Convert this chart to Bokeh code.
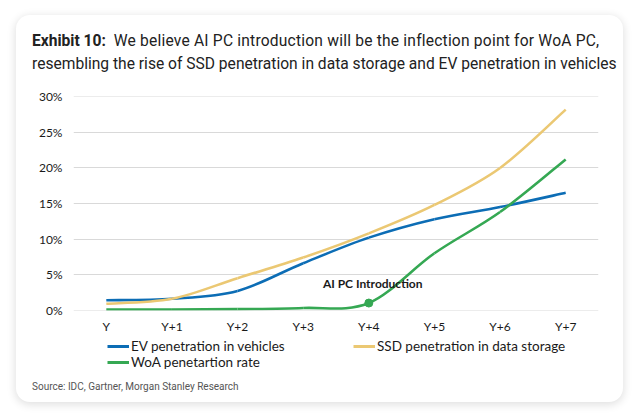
import numpy as np
from bokeh.plotting import figure
from bokeh.layouts import column, row
from bokeh.models import (Range1d, FixedTicker, PrintfTickFormatter, Label,
                          Legend, LegendItem, Div, Spacer)
from bokeh.embed import file_html
from bokeh.resources import INLINE

# ---- data -------------------------------------------------------------
categories = ["Y", "Y+1", "Y+2", "Y+3", "Y+4", "Y+5", "Y+6", "Y+7"]
ev_vehicles = [1.4, 1.6, 2.7, 6.6, 10.2, 12.8, 14.5, 16.5]
ssd_storage = [0.9, 1.6, 4.5, 7.4, 10.8, 14.8, 20.0, 28.2]
woa_rate = [0.1, 0.1, 0.15, 0.3, 1.0, 8.0, 13.8, 21.2]
y_ticks = [0, 5, 10, 15, 20, 25, 30]
marker_index = 4
annotation_text = "AI PC Introduction"
series_names = ["EV penetration in vehicles", "SSD penetration in data storage",
                "WoA penetartion rate"]
title_bold = "Exhibit 10:"
title_rest = "We believe AI PC introduction will be the inflection point for WoA PC,"
title_line2 = "resembling the rise of SSD penetration in data storage and EV penetration in vehicles"
source_text = "Source: IDC, Gartner, Morgan Stanley Research"

C_EV = "#0C6DB5"
C_SSD = "#EBC873"
C_WOA = "#35A853"
CHART_FONT = "Lato"
TITLE_FONT = "Roboto"
CARD_W = 607

xs = np.arange(len(categories), dtype=float)

p = figure(width=CARD_W, height=263, output_backend="svg", toolbar_location=None,
           x_range=Range1d(-0.5, len(categories) - 0.5),
           y_range=Range1d(-0.05, 30.05),
           min_border_left=57, min_border_right=25,
           min_border_top=21, min_border_bottom=28)
p.background_fill_color = "white"
p.border_fill_color = "white"
p.outline_line_color = None

# axes
p.xaxis.ticker = FixedTicker(ticks=list(xs))
p.xaxis.major_label_overrides = {float(i): c for i, c in enumerate(categories)}
p.yaxis.ticker = FixedTicker(ticks=y_ticks)
p.yaxis.formatter = PrintfTickFormatter(format="%d%%")
for ax in (p.xaxis, p.yaxis):
    ax.axis_line_color = None
    ax.major_tick_line_color = None
    ax.minor_tick_line_color = None
    ax.major_tick_out = 0
    ax.major_tick_in = 0
    ax.minor_tick_out = 0
    ax.major_label_text_font = CHART_FONT
    ax.major_label_text_font_size = "12px"
    ax.major_label_text_color = "#1a1a1a"
p.yaxis.major_label_standoff = 11
p.xaxis.major_label_standoff = 8
p.xgrid.grid_line_color = None
p.ygrid.grid_line_color = "#D9D9D9"
p.ygrid.grid_line_width = 1


def smooth(xv, yv, color):
    xv = np.asarray(xv, float)
    yv = np.asarray(yv, float)
    n = len(xv)
    xp = np.concatenate([[xv[0]], xv, [xv[-1]]])
    yp = np.concatenate([[yv[0]], yv, [yv[-1]]])
    cx0 = xp[1:n] + (xp[2:n + 1] - xp[0:n - 1]) / 6
    cy0 = yp[1:n] + (yp[2:n + 1] - yp[0:n - 1]) / 6
    cx1 = xp[2:n + 1] - (xp[3:n + 2] - xp[1:n]) / 6
    cy1 = yp[2:n + 1] - (yp[3:n + 2] - yp[1:n]) / 6
    p.bezier(x0=xv[:-1], y0=yv[:-1], x1=xv[1:], y1=yv[1:],
             cx0=cx0, cy0=cy0, cx1=cx1, cy1=cy1,
             line_color=color, line_width=2.6)


smooth(xs, ev_vehicles, C_EV)
smooth(xs, ssd_storage, C_SSD)
smooth(xs, woa_rate, C_WOA)

p.scatter(x=[xs[marker_index]], y=[woa_rate[marker_index]], size=8,
          fill_color=C_WOA, line_color=C_WOA)

p.add_layout(Label(x=xs[marker_index] - 0.7, y=3.8, text=annotation_text,
                   text_font=CHART_FONT, text_font_style="bold",
                   text_font_size="12px", text_color="#1a1a1a",
                   text_baseline="alphabetic"))

# legend in its own strip (its frame is aligned with the chart's frame)
lf = figure(width=CARD_W, height=34, output_backend="svg", toolbar_location=None,
            x_range=Range1d(0, 1), y_range=Range1d(0, 1),
            x_axis_location=None, y_axis_location=None, min_border=0)
lf.grid.visible = False
lf.outline_line_color = None
lf.background_fill_color = "white"
lf.border_fill_color = "white"
leg_renderers = [lf.line(x=[np.nan], y=[np.nan], line_color=c, line_width=3)
                 for c in (C_EV, C_SSD, C_WOA)]
legend = Legend(items=[LegendItem(label=n, renderers=[r])
                       for n, r in zip(series_names, leg_renderers)],
                location=(34, 2), orientation="horizontal", ncols=2,
                glyph_width=22, glyph_height=16, label_height=16,
                label_width=222, label_standoff=2, spacing=0, padding=0,
                margin=0, border_line_color=None, background_fill_alpha=0,
                label_text_font=CHART_FONT, label_text_font_size="13.5px",
                label_text_color="#1a1a1a")
lf.add_layout(legend, "center")

# titles and source (HTML text in the card)
title_html = (
    f'<div style="padding:15px 0 0 16px; margin:0; font-family:{TITLE_FONT}; '
    f'font-size:15.6px; line-height:23px; color:#222222; white-space:nowrap;">'
    f'<b>{title_bold}</b>&nbsp; <span style="letter-spacing:0.2px;">{title_rest}</span>'
    f'<br>{title_line2}</div>')
title_div = Div(text=title_html, width=CARD_W, height=60, margin=(0, 0, 0, 0))

source_html = (
    f'<div style="padding:9px 0 0 16px; margin:0; font-family:{TITLE_FONT}; '
    f'font-size:10px; line-height:12px; color:#555555; white-space:nowrap;">'
    f'{source_text}</div>')
source_div = Div(text=source_html, width=CARD_W, height=30, margin=(0, 0, 0, 0))

card = column(title_div, p, lf, source_div, spacing=0)
card.styles = {"background-color": "white", "border-radius": "14px",
               "overflow": "hidden",
               "box-shadow": "0px 2px 8px 1px rgba(0,0,0,0.12)"}

page = column(Spacer(height=15, width=10),
              row(Spacer(width=16, height=10), card, spacing=0),
              spacing=0)

open("out.html", "w").write(file_html(page, INLINE))
